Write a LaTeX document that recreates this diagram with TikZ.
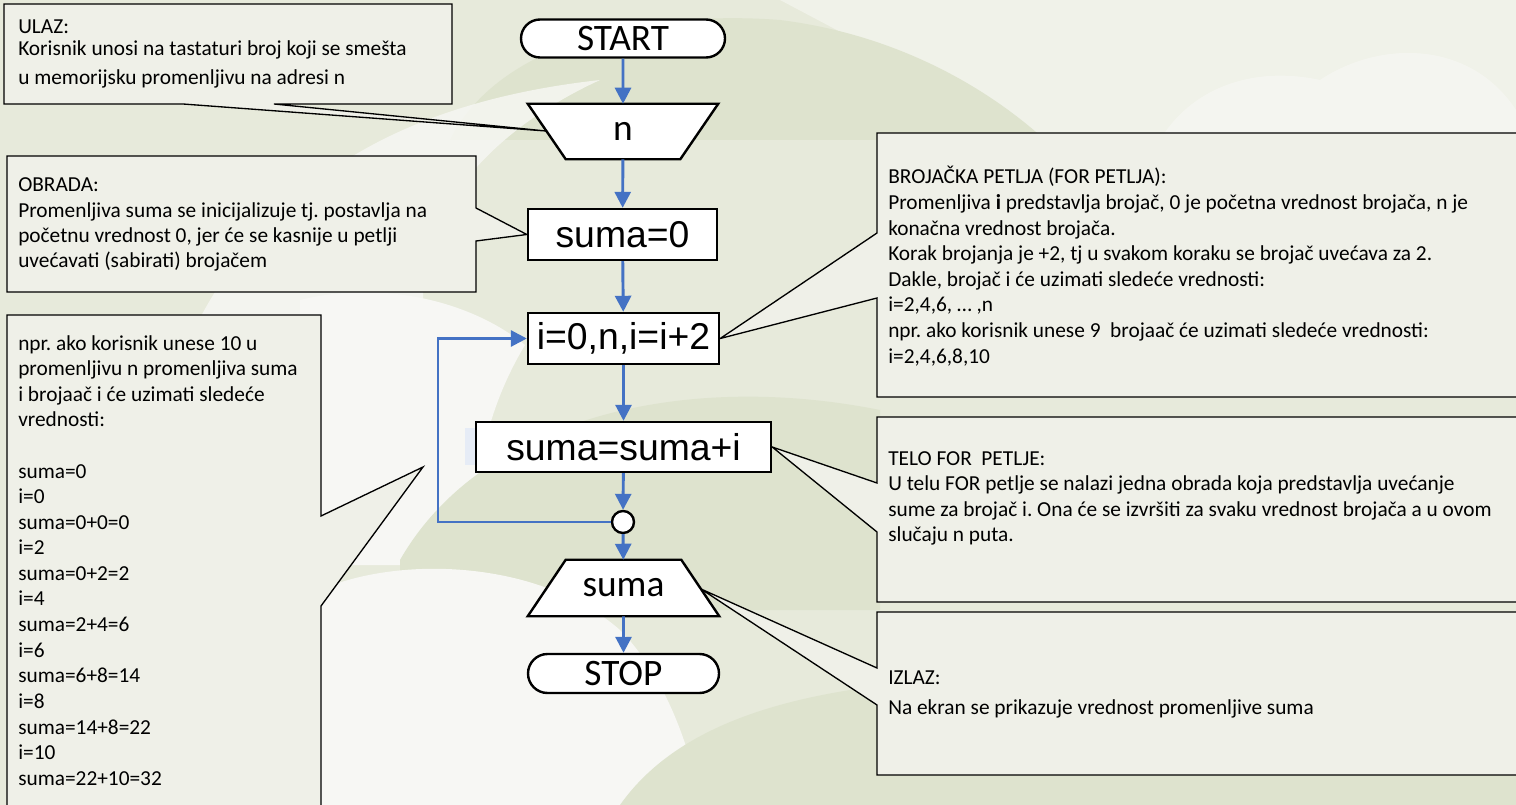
\documentclass[tikz,border=0pt]{standalone}
\usepackage{fontspec}
\setmainfont{Carlito}
\newfontfamily\arialf{Liberation Sans}
\usetikzlibrary{arrows.meta,shapes.misc}
\definecolor{bgbase}{HTML}{E7EADB}
\definecolor{bglight}{HTML}{F0F2E9}
\definecolor{bgwhite}{HTML}{F7F7F4}
\definecolor{bgdark}{HTML}{DEE3CE}
\definecolor{callfill}{HTML}{EFF0E8}
\definecolor{flowblue}{HTML}{4472C4}
\definecolor{bluepatch}{HTML}{E6ECF6}
\pgfdeclarelayer{bglayer}
\pgfdeclarelayer{shapes}
\pgfsetlayers{bglayer,shapes,main}
\frenchspacing
\newcommand{\ctext}[2]{\fontsize{16}{#1}\selectfont\begin{tabular}[t]{@{}l@{}}#2\end{tabular}}
\begin{document}
\begin{tikzpicture}[x=0.75pt,y=-0.75pt,
  flowbox/.style={draw=black,line width=1.8pt,fill=white,inner sep=0pt},
  trapline/.style={draw=black,line width=1.8pt,fill=white,line join=miter},
  calfont/.style={font=\fontsize{28}{30}\selectfont},
  arfont/.style={font=\arialf\fontsize{28}{30}\selectfont},
  flowarrow/.style={draw=flowblue,line width=2.2pt,-{Triangle[length=12pt,width=12pt]}},
  callout/.style={draw=black,line width=1pt,fill=callfill,line join=miter},
  calltext/.style={anchor=base west,inner sep=0pt}
]
\useasboundingbox (0,0) rectangle (1516,805);
% ---------- flowchart nodes ----------
\node[rounded rectangle,flowbox,minimum width=153pt,minimum height=28.5pt,calfont] (start) at (623,38.5) {START};
\node[inner sep=0pt,minimum width=142.5pt,minimum height=41.25pt,calfont] (n) at (623,131.5) {n};
\node[rectangle,flowbox,minimum width=141.75pt,minimum height=38.25pt,arfont] (s0) at (622.5,234.5) {suma=0};
\node[rectangle,flowbox,minimum width=143.25pt,minimum height=38.25pt,arfont] (loop) at (623.5,338.5) {i=0,n,i=i+2};
\node[rectangle,flowbox,minimum width=221.25pt,minimum height=37.5pt,arfont] (body) at (623.5,447) {suma=suma+i};
\node[circle,draw=black,line width=1.8pt,fill=white,minimum size=16.5pt,inner sep=0pt] (circ) at (623,522) {};
\node[inner sep=0pt,minimum width=143.25pt,minimum height=42pt,calfont] (out) at (623.5,588) {suma};
\node[rounded rectangle,flowbox,minimum width=143.25pt,minimum height=29.25pt,calfont] (stop) at (623.5,673.5) {STOP};
\coordinate (lp) at (438,522);

% ---------- connectors ----------
\draw[flowarrow] (start) -- (n);
\draw[flowarrow] (n) -- (s0);
\draw[flowarrow] (s0) -- (loop);
\draw[flowarrow] (loop) -- (body);
\draw[flowarrow] (body) -- (circ);
\draw[flowarrow] (circ) -- (out);
\draw[flowarrow] (out) -- (stop);
\draw[flowarrow] (circ.west) -- (lp) |- (loop.west);

% ---------- callout texts ----------
\node[calltext] (ulaz) at (18,33.5) {\ctext{16.5}{ULAZ:\\Korisnik unosi na tastaturi broj koji se smešta\\[5.25pt]u memorijsku promenljivu na adresi n}};
\node[calltext] (obrada) at (18,192) {\ctext{19}{OBRADA:\\Promenljiva suma se inicijalizuje tj. postavlja na\\početnu vrednost 0, jer će se kasnije u petlji\\uvećavati (sabirati) brojačem}};
\node[calltext] (primer) at (18,350) {\ctext{19.2}{npr. ako korisnik unese 10 u\\promenljivu n promenljiva suma\\i brojaač i će uzimati sledeće\\vrednosti:\\[19.2pt]suma=0\\i=0\\suma=0+0=0\\i=2\\suma=0+2=2\\i=4\\suma=2+4=6\\i=6\\suma=6+8=14\\i=8\\suma=14+8=22\\i=10\\suma=22+10=32}};
\node[calltext] (brojac) at (888,184) {\ctext{19.2}{BROJAČKA PETLJA (FOR PETLJA):\\Promenljiva \textbf{i} predstavlja brojač, 0 je početna vrednost brojača, n je\\konačna vrednost brojača.\\Korak brojanja je +2, tj u svakom koraku se brojač uvećava za 2.\\Dakle, brojač i će uzimati sledeće vrednosti:\\i=2,4,6, … ,n\\npr. ako korisnik unese 9~ brojaač će uzimati sledeće vrednosti:\\i=2,4,6,8,10}};
\node[calltext] (telo) at (888,465) {\ctext{19.2}{TELO FOR~ PETLJE:\\U telu FOR petlje se nalazi jedna obrada koja predstavlja uvećanje\\sume za brojač i. Ona će se izvršiti za svaku vrednost brojača a u ovom\\slučaju n puta.}};
\node[calltext] (izlaz) at (888,684) {\ctext{22.5}{IZLAZ:\\Na ekran se prikazuje vrednost promenljive suma}};

% ---------- callout shapes and trapezoids ----------
\begin{pgfonlayer}{shapes}
\draw[callout] (4,4) -- (452,4) -- (452,104) -- (274,104) -- (546,131) -- (183,104) -- (4,104) -- cycle;
\draw[callout] (7,156) -- (476,156) -- (476,208) -- (s0.west) -- (476,241) -- (476,292) -- (7,292) -- cycle;
\draw[callout] (7,315) -- (321,315) -- (321,516) -- (423,467) -- (321,606) -- (321,812) -- (7,812) -- cycle;
\draw[callout] (877,133) -- (1522,133) -- (1522,397) -- (877,397) -- (877,298) -- (loop.east) -- (877,233) -- cycle;
\draw[callout] (877,417) -- (1522,417) -- (1522,602) -- (877,602) -- (877,532) -- (body.east) -- (877,483) -- cycle;
\draw[callout] (877,612) -- (1522,612) -- (1522,775) -- (877,775) -- (877,705) -- (701,589) -- (877,668) -- cycle;
\draw[trapline] (n.north west) -- (n.north east) -- ([xshift=-28.5pt]n.south east) -- ([xshift=28.5pt]n.south west) -- cycle;
\draw[trapline] ([xshift=28.5pt]out.north west) -- ([xshift=-28.5pt]out.north east) -- (out.south east) -- (out.south west) -- cycle;
\end{pgfonlayer}

% ---------- background ----------
\begin{pgfonlayer}{bglayer}
\fill[bgbase] (0,0) rectangle (1516,805);
\fill[bglight] (780,0) -- (1516,0) -- (1516,140) -- (1045,140) -- cycle;
\fill[bgdark] (450,140) .. controls (500,40) and (650,10) .. (780,20) .. controls (900,35) and (990,90) .. (1045,140) -- cycle;
\fill[bgwhite,opacity=0.7] (1160,140) .. controls (1190,90) and (1250,65) .. (1320,80) .. controls (1380,40) and (1470,40) .. (1516,110) -- (1516,140) -- cycle;
\fill[bgwhite,opacity=0.8] (180,360) .. controls (260,170) and (420,100) .. (600,80) .. controls (470,140) and (400,240) .. (430,340) -- cycle;
\fill[bgwhite] (300,300) .. controls (380,280) and (470,300) .. (525,345) .. controls (480,420) and (470,500) .. (480,565) -- (300,565) -- cycle;
\fill[bgdark] (400,560) .. controls (480,420) and (680,370) .. (880,410) -- (880,610) -- (400,610) -- cycle;
\fill[bgwhite] (320,805) -- (320,590) .. controls (400,555) and (540,560) .. (620,630) .. controls (660,670) and (690,740) .. (700,805) -- cycle;
\fill[bgdark] (620,805) .. controls (680,720) and (800,690) .. (940,680) .. controls (1150,640) and (1400,630) .. (1516,650) -- (1516,805) -- cycle;
\fill[bluepatch] (465,428) rectangle (476,465);
\end{pgfonlayer}
\end{tikzpicture}
\end{document}
